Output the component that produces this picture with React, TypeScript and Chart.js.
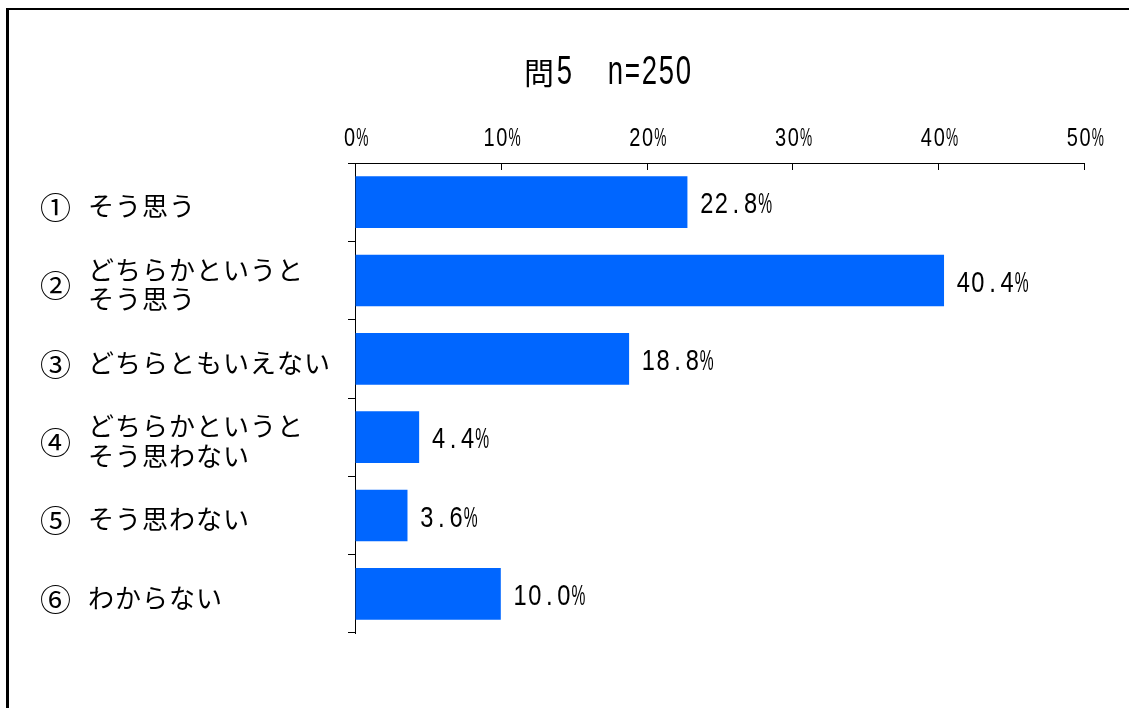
import React, { useEffect, useRef } from 'react';
import { Chart, registerables } from 'chart.js';

Chart.register(...registerables);

const titleText = '問5　n=250';
const categoryMarks = ['①', '②', '③', '④', '⑤', '⑥'];
const categoryLines = [
  ['そう思う'],
  ['どちらかというと', 'そう思う'],
  ['どちらともいえない'],
  ['どちらかというと', 'そう思わない'],
  ['そう思わない'],
  ['わからない'],
];
const values = [22.8, 40.4, 18.8, 4.4, 3.6, 10.0];
const xTickValues = [0, 10, 20, 30, 40, 50];
const barColor = '#0066FF';

const LATIN = "'Liberation Sans', Arial, sans-serif";
const CJK = "'Noto Sans CJK JP', sans-serif";

function drawCells(
  ctx: CanvasRenderingContext2D,
  text: string,
  x: number,
  baseline: number,
  cell: number,
  halfSize: number,
  fullSize: number,
  align: 'left' | 'center'
) {
  const chars = Array.from(text);
  const widths = chars.map((c) => (c.charCodeAt(0) < 128 ? cell : cell * 2));
  const total = widths.reduce((a, b) => a + b, 0);
  let cx = align === 'center' ? x - total / 2 : x;
  ctx.textAlign = 'center';
  ctx.textBaseline = 'alphabetic';
  chars.forEach((c, i) => {
    const ascii = c.charCodeAt(0) < 128;
    const w = widths[i];
    if (c !== ' ' && c !== '　') {
      if (ascii) {
        ctx.font = `${halfSize}px ${LATIN}`;
        const mw = ctx.measureText(c).width;
        const sx = Math.min(0.8, (w * (c === '%' ? 0.95 : 0.9)) / mw);
        ctx.save();
        ctx.translate(cx + w / 2, baseline);
        ctx.scale(sx, 1);
        ctx.fillText(c, 0, 0);
        ctx.restore();
      } else {
        ctx.font = `${fullSize}px ${CJK}`;
        ctx.fillText(c, cx + w / 2, baseline);
      }
    }
    cx += w;
  });
}

const decorPlugin = {
  id: 'decor',
  afterDraw(chart: any) {
    const ctx: CanvasRenderingContext2D = chart.ctx;
    const xs = chart.scales.x;
    const ys = chart.scales.y;
    const area = chart.chartArea;
    ctx.save();
    ctx.fillStyle = '#000';
    // title
    drawCells(ctx, titleText, 522, 84, 17, 40, 30, 'left');
    // x tick labels and inward ticks
    ctx.strokeStyle = '#000';
    ctx.lineWidth = 1;
    xTickValues.forEach((v) => {
      const px = Math.round(xs.getPixelForValue(v)) + 0.5;
      ctx.beginPath();
      ctx.moveTo(px, area.top);
      ctx.lineTo(px, area.top + 7);
      ctx.stroke();
      drawCells(ctx, `${v}%`, xs.getPixelForValue(v) + 1, 146, 12.8, 25, 25, 'center');
    });
    // category labels
    categoryMarks.forEach((m, i) => {
      const cy = ys.getPixelForValue(i) + 4;
      ctx.textAlign = 'left';
      ctx.textBaseline = 'middle';
      ctx.font = `31px ${CJK}`;
      ctx.fillText(m, 40, cy + 1);
      const lines = categoryLines[i];
      const lh = 29.5;
      ctx.font = `26px ${CJK}`;
      (ctx as any).letterSpacing = '1px';
      lines.forEach((ln, j) => {
        ctx.fillText(ln, 88, cy - ((lines.length - 1) * lh) / 2 + j * lh);
      });
      (ctx as any).letterSpacing = '0px';
    });
    // data labels
    const meta = chart.getDatasetMeta(0);
    meta.data.forEach((bar: any, i: number) => {
      drawCells(ctx, `${values[i].toFixed(1)}%`, bar.x + 12, bar.y + 11, 14.6, 30, 30, 'left');
    });
    ctx.restore();
  },
};

export default function App() {
  const ref = useRef<HTMLCanvasElement>(null);
  useEffect(() => {
    const canvas = ref.current!;
    const chart = new Chart(canvas, {
      type: 'bar',
      data: {
        labels: categoryMarks,
        datasets: [
          {
            data: values,
            backgroundColor: barColor,
            borderWidth: 0,
            barPercentage: 0.66,
            categoryPercentage: 1,
          },
        ],
      },
      options: {
        indexAxis: 'y',
        responsive: false,
        animation: false,
        devicePixelRatio: 1,
        layout: { padding: { left: 0, right: 45, top: 133, bottom: 75 } },
        plugins: {
          legend: { display: false },
          title: { display: false },
          tooltip: { enabled: false },
        },
        scales: {
          x: {
            position: 'top',
            min: 0,
            max: 50,
            ticks: { display: false, stepSize: 10 },
            grid: { drawOnChartArea: false, drawTicks: false },
            border: { display: true, color: '#000', width: 1 },
            afterFit: (s: any) => {
              s.height = 30;
            },
          },
          y: {
            ticks: { display: false },
            grid: { drawOnChartArea: false, drawTicks: true, tickLength: 7, color: '#000', offset: true },
            border: { display: true, color: '#000', width: 1 },
            afterFit: (s: any) => {
              s.width = 355;
            },
          },
        },
      },
      plugins: [decorPlugin],
    });
    return () => chart.destroy();
  }, []);
  return (
    <>
      <div
        style={{
          position: 'fixed',
          left: 6,
          top: 8,
          width: 1200,
          height: 800,
          borderLeft: '3px solid #000',
          borderTop: '2px solid #000',
          background: '#fff',
        }}
      />
      <canvas
        ref={ref}
        width={1129}
        height={708}
        style={{ position: 'fixed', left: 0, top: 0, width: 1129, height: 708 }}
      />
    </>
  );
}
